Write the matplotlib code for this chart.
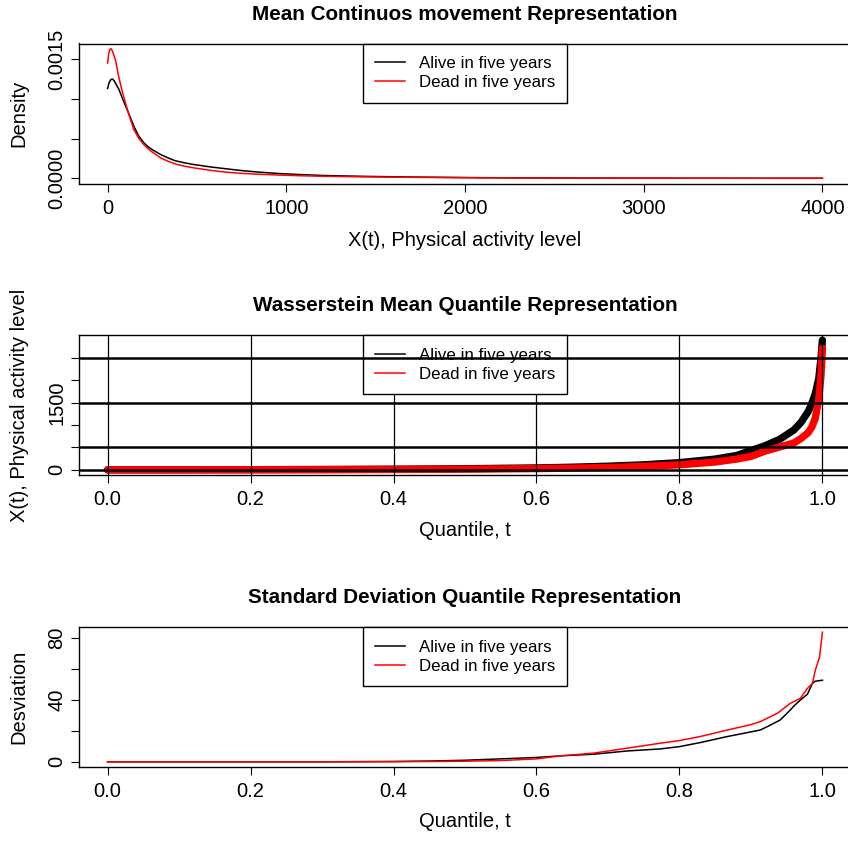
import matplotlib
matplotlib.use("Agg")
import matplotlib.pyplot as plt
from matplotlib.lines import Line2D
import numpy as np

plt.rcParams['font.family'] = ['Liberation Sans', 'DejaVu Sans']

# --- panel 1: mean density ---
dens_x_alive = [0, 8, 18, 26, 36, 48, 63, 82, 110, 130, 150, 175, 203, 225, 250, 297,
                340, 380, 430, 483, 580, 670, 760, 856, 968, 1100, 1200, 1450, 1713,
                2087, 2500, 3000, 3500, 4000]
dens_alive = [0.00113, 0.00120, 0.00124, 0.00125, 0.00123, 0.00118, 0.00112, 0.00101,
              0.00086, 0.00075, 0.00064, 0.00053, 0.000446, 0.000400, 0.00036,
              0.000299, 0.000255, 0.00022, 0.000195, 0.000173, 0.000142, 0.000118,
              0.000095, 0.000076, 0.000059, 0.000045, 0.000036, 0.000024, 0.000016,
              0.000008, 0.000004, 0.000002, 0.000001, 0.0000005]
dens_x_dead = [0, 6, 12, 18, 25, 35, 45, 60, 82, 110, 128, 147, 175, 203, 225, 250,
               297, 340, 380, 430, 483, 580, 670, 760, 856, 968, 1100, 1200, 1450,
               1713, 2087, 2500, 3000, 3500, 4000]
dens_dead = [0.00145, 0.00156, 0.00162, 0.00163, 0.00161, 0.00155, 0.00148, 0.00130,
             0.00109, 0.00087, 0.00074, 0.000613, 0.000500, 0.000424, 0.000375,
             0.00033, 0.000257, 0.000212, 0.00018, 0.000152, 0.000131, 0.000099,
             0.0000756, 0.000061, 0.00005, 0.00004, 0.000031, 0.000026, 0.000018,
             0.000012, 0.000006, 0.000003, 0.0000015, 0.0000008, 0.0000004]

# --- panel 2: Wasserstein mean quantile functions ---
q_t_alive = [0, 0.1, 0.2, 0.3, 0.4, 0.5, 0.6, 0.65, 0.7, 0.75, 0.8, 0.85, 0.88, 0.9,
             0.92, 0.94, 0.96, 0.97, 0.98, 0.985, 0.99, 0.995, 0.998, 1.0]
q_alive = [0, 1, 3, 7, 13, 24, 42, 58, 80, 112, 160, 240, 320, 430, 540, 680, 890,
           1060, 1300, 1480, 1700, 2050, 2500, 2900]
q_t_dead = [0, 0.1, 0.2, 0.3, 0.4, 0.5, 0.6, 0.65, 0.7, 0.75, 0.8, 0.85, 0.88, 0.9,
            0.92, 0.94, 0.96, 0.97, 0.98, 0.985, 0.99, 0.995, 0.998, 1.0]
q_dead = [0, 0.5, 2, 4, 8, 15, 27, 38, 52, 75, 112, 175, 240, 300, 420, 510, 600,
          700, 830, 950, 1150, 1600, 2100, 2720]
q_hlines = [0, 500, 1500, 2500]
q_vlines = [0, 0.2, 0.4, 0.6, 0.8, 1.0]

# --- panel 3: standard deviation quantile functions ---
sd_t_alive = [0, 0.2, 0.3, 0.4, 0.45, 0.5, 0.55, 0.6, 0.634, 0.68, 0.727, 0.773, 0.8,
              0.829, 0.867, 0.913, 0.923, 0.941, 0.955, 0.96, 0.969, 0.979, 0.986,
              0.99, 1.0]
sd_alive = [0, 0, 0, 0.2, 0.5, 1.0, 1.9, 2.8, 3.85, 4.9, 7.0, 8.3, 9.8, 12.4, 16.3,
            20.5, 22.7, 27, 33.4, 35.9, 39.8, 43.6, 50.5, 52, 52.6]
sd_t_dead = [0, 0.1, 0.2, 0.3, 0.4, 0.45, 0.5, 0.55, 0.6, 0.634, 0.68, 0.727, 0.773,
             0.8, 0.829, 0.867, 0.9, 0.913, 0.937, 0.955, 0.969, 0.979, 0.986, 0.99,
             0.996, 1.0]
sd_dead = [0, 0, 0, 0, 0.1, 0.2, 0.4, 0.8, 1.9, 3.85, 5.6, 8.8, 12.0, 13.7, 16.3, 20.5,
           24, 25.9, 31.3, 37.7, 40.9, 47.3, 50.5, 59, 67.6, 83.6]

labels = ["Alive in five years", "Dead in five years"]
colors = ["black", "red"]


def r_lim(lo, hi):
    # R style axis extension of 4 percent
    r = hi - lo
    return lo - 0.04 * r, hi + 0.04 * r


def add_legend(ax):
    handles = [Line2D([], [], color=c, lw=1.1) for c in colors]
    leg = ax.legend(handles, labels, loc='upper center', bbox_to_anchor=(0.5, 1.0),
                    borderaxespad=0, fancybox=False, framealpha=1, edgecolor='black',
                    fontsize=12.2, borderpad=0.74, labelspacing=0.24, handlelength=1.77,
                    handletextpad=0.8)
    leg.get_frame().set_linewidth(1.0)
    leg.set_zorder(4)
    return leg


def style_axes(ax, title, xlabel, ylabel, xlab_y):
    ax.set_title(title, fontsize=14.9, fontweight='bold', pad=17)
    ax.set_xlabel(xlabel, fontsize=14.5)
    ax.set_ylabel(ylabel, fontsize=14.5)
    ax.xaxis.set_label_coords(0.5, xlab_y)
    ax.xaxis.label.set_va('center')
    ax.yaxis.set_label_coords(-0.0777, 0.5)
    ax.yaxis.label.set_va('center')
    ax.tick_params(axis='both', direction='out', length=5.8, width=0.8, labelsize=14.5)
    ax.tick_params(axis='x', pad=5)
    ax.tick_params(axis='y', pad=3.5)
    for lab in ax.get_yticklabels():
        lab.set_rotation(90)
        lab.set_va('center')
    for s in ax.spines.values():
        s.set_linewidth(1.0)


fig = plt.figure(figsize=(8.48, 8.41), dpi=100)
left = 79 / 848
width = (851 - 79) / 848
height = 140 / 841

# panel 1
ax1 = fig.add_axes([left, 1 - 183.5 / 841, width, height])
ax1.plot(dens_x_alive, dens_alive, color='black', lw=1.1)
ax1.plot(dens_x_dead, dens_dead, color='red', lw=1.1)
ax1.set_xlim(*r_lim(0, 4000))
ax1.set_ylim(*r_lim(0, max(dens_dead)))
ax1.set_xticks([0, 1000, 2000, 3000, 4000])
ax1.set_yticks([0, 0.0005, 0.001, 0.0015])
ax1.set_yticklabels(['0.0000', '', '', '0.0015'])
add_legend(ax1)
style_axes(ax1, "Mean Continuos movement Representation",
           "X(t), Physical activity level", "Density", -0.4036)

# panel 2
ax2 = fig.add_axes([left, 1 - 475 / 841, width, height])
ax2.plot(q_t_alive, q_alive, color='black', lw=5.3, solid_capstyle='round', zorder=2)
ax2.plot(q_t_dead, q_dead, color='red', lw=5.3, solid_capstyle='round', zorder=2.1)
for v in q_vlines:
    ax2.axvline(v, color='black', lw=0.9, zorder=3)
for h in q_hlines:
    ax2.axhline(h, color='black', lw=1.8, zorder=5)
ax2.set_xlim(*r_lim(0, 1))
ax2.set_ylim(*r_lim(0, max(q_alive)))
ax2.set_xticks([0, 0.2, 0.4, 0.6, 0.8, 1.0])
ax2.set_xticklabels(['0.0', '0.2', '0.4', '0.6', '0.8', '1.0'])
ax2.set_yticks([0, 500, 1000, 1500, 2000, 2500])
ax2.set_yticklabels(['0', '', '', '1500', '', ''])
add_legend(ax2)
style_axes(ax2, "Wasserstein Mean Quantile Representation",
           "Quantile, t", "X(t), Physical activity level", -0.393)

# panel 3
ax3 = fig.add_axes([left, 1 - 767 / 841, width, height])
ax3.plot(sd_t_alive, sd_alive, color='black', lw=1.1)
ax3.plot(sd_t_dead, sd_dead, color='red', lw=1.1)
ax3.set_xlim(*r_lim(0, 1))
ax3.set_ylim(*r_lim(0, max(sd_dead)))
ax3.set_xticks([0, 0.2, 0.4, 0.6, 0.8, 1.0])
ax3.set_xticklabels(['0.0', '0.2', '0.4', '0.6', '0.8', '1.0'])
ax3.set_yticks([0, 20, 40, 60, 80])
ax3.set_yticklabels(['0', '', '40', '', '80'])
add_legend(ax3)
style_axes(ax3, "Standard Deviation Quantile Representation",
           "Quantile, t", "Desviation", -0.391)

fig.savefig("out.png", dpi=100)
